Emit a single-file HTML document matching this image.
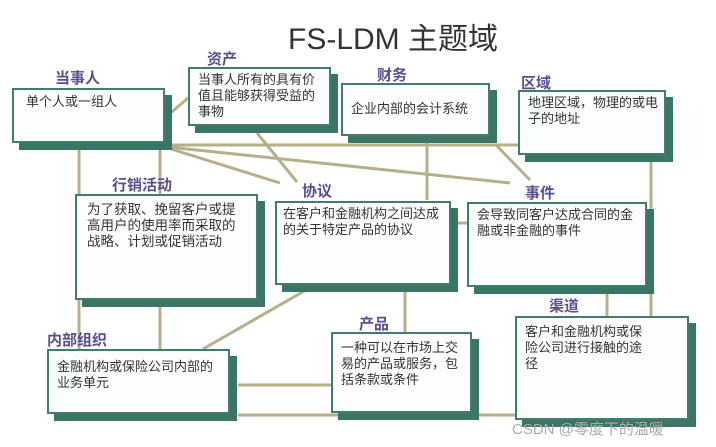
<!DOCTYPE html>
<html><head><meta charset="utf-8"><style>
body{margin:0;width:716px;height:447px;background:#fff;position:relative;overflow:hidden;font-family:"Liberation Sans","Noto Sans CJK SC",sans-serif}
.b{position:absolute;background:#fbfefd;border:2px solid #3f7d6e;box-shadow:7px 7px 0 #3a7565;box-sizing:border-box;font-size:13px;color:#333;line-height:16px;padding:4px 8px;white-space:nowrap}
.l{position:absolute;font-weight:bold;color:#5b4d8f;font-size:15px}
svg{position:absolute;left:0;top:0}
</style></head><body>
<svg width="716" height="447"><g stroke="#b5b08a" stroke-width="3" fill="none">
<line x1="79" y1="143" x2="79" y2="349"/>
<line x1="160" y1="143" x2="160" y2="349"/>
<line x1="167" y1="116" x2="188" y2="98"/>
<line x1="168" y1="145" x2="518" y2="145"/>
<line x1="168" y1="147" x2="510" y2="183"/>
<line x1="168" y1="148" x2="280" y2="183"/>
<line x1="257" y1="133" x2="297" y2="182"/>
<line x1="427" y1="136" x2="427" y2="200"/>
<line x1="495" y1="144" x2="530" y2="180"/>
<line x1="651" y1="155" x2="651" y2="316"/>
<line x1="451" y1="223" x2="467" y2="223"/>
<line x1="306" y1="290" x2="203" y2="349"/>
<line x1="405" y1="285" x2="405" y2="332"/>
<line x1="607" y1="287" x2="607" y2="316"/>
<line x1="238" y1="385" x2="331" y2="385"/>
<line x1="238" y1="415" x2="515" y2="415"/>
</g></svg>
<div style="position:absolute;left:288px;top:14px;font-size:30px;color:#333">FS-LDM 主题域</div>
<div class="l" style="left:55px;top:67px">当事人</div>
<div class="b" style="left:12px;top:88px;width:153px;height:55px;padding-left:12px">单个人或一组人</div>
<div class="l" style="left:207px;top:48px">资产</div>
<div class="b" style="left:188px;top:67px;width:143px;height:59px;padding-top:3px">当事人所有的具有价<br>值且能够获得受益的<br>事物</div>
<div class="l" style="left:377px;top:64px">财务</div>
<div class="b" style="left:341px;top:83px;width:149px;height:53px;padding-top:16px">企业内部的会计系统</div>
<div class="l" style="left:521px;top:72px">区域</div>
<div class="b" style="left:518px;top:90px;width:148px;height:65px;padding-top:3px">地理区域，物理的或电<br>子的地址</div>
<div class="l" style="left:112px;top:174px">行销活动</div>
<div class="b" style="left:75px;top:194px;width:183px;height:106px;padding:6px 10px;font-size:13.5px">为了获取、挽留客户或提<br>高用户的使用率而采取的<br>战略、计划或促销活动</div>
<div class="l" style="left:302px;top:180px">协议</div>
<div class="b" style="left:275px;top:201px;width:176px;height:84px;padding:3px 6px">在客户和金融机构之间达成<br>的关于特定产品的协议</div>
<div class="l" style="left:525px;top:182px">事件</div>
<div class="b" style="left:467px;top:202px;width:180px;height:85px;padding:3px 8px">会导致同客户达成合同的金<br>融或非金融的事件</div>
<div class="l" style="left:47px;top:329px">内部组织</div>
<div class="b" style="left:47px;top:349px;width:183px;height:65px;padding:8px 8px">金融机构或保险公司内部的<br>业务单元</div>
<div class="l" style="left:359px;top:313px">产品</div>
<div class="b" style="left:331px;top:332px;width:141px;height:81px;padding:6px 8px">一种可以在市场上交<br>易的产品或服务，包<br>括条款或条件</div>
<div class="l" style="left:549px;top:295px">渠道</div>
<div class="b" style="left:515px;top:316px;width:174px;height:104px;padding:6px 8px">客户和金融机构或保<br>险公司进行接触的途<br>径</div>
<div style="position:absolute;left:512px;top:418px;font-size:15px;color:#aaa">CSDN @零度下的温暖</div>
</body></html>
